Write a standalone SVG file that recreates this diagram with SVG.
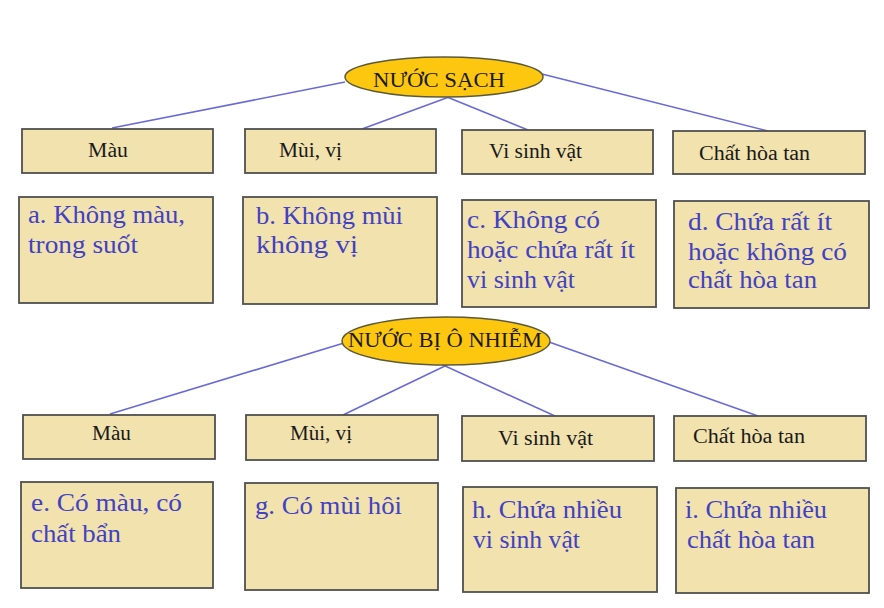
<svg xmlns="http://www.w3.org/2000/svg" width="884" height="608" viewBox="0 0 884 608">
<style>
.box{fill:#F1E2AE;stroke:#505050;stroke-width:1.8}
.ell{fill:#FDC70F;stroke:#5a5a3a;stroke-width:1.5}
.con{stroke:#6A6AD6;stroke-width:1.6;fill:none}
.lab{font-family:"Liberation Serif","Times New Roman",serif;font-size:20px;fill:#1a1a1a}
.hd{font-family:"Liberation Serif","Times New Roman",serif;font-size:20px;fill:#1a1a1a}
.ct{font-family:"Liberation Serif","Times New Roman",serif;font-size:24.5px;fill:#4141C4}
</style>
<rect width="884" height="608" fill="#ffffff"/>
<g id="connectors">
<line class="con" x1="345" y1="82" x2="112" y2="128"/>
<line class="con" x1="449" y1="97" x2="362" y2="129"/>
<line class="con" x1="447" y1="97" x2="528" y2="130"/>
<line class="con" x1="542" y1="74" x2="768" y2="131"/>
<line class="con" x1="344" y1="343" x2="110" y2="414"/>
<line class="con" x1="447" y1="365" x2="343" y2="415"/>
<line class="con" x1="443" y1="365" x2="555" y2="416"/>
<line class="con" x1="549" y1="342" x2="758" y2="416"/>
</g>
<g id="nuoc-sach">
<ellipse class="ell" cx="444" cy="77" rx="99" ry="20"/>
<text class="hd" x="373" y="87" textLength="132" lengthAdjust="spacingAndGlyphs">NƯỚC SẠCH</text>
</g>
<g id="top-mau">
<rect class="box" x="22" y="129" width="191" height="44"/>
<text class="lab" x="88" y="157" textLength="40" lengthAdjust="spacingAndGlyphs">Màu</text>
</g>
<g id="top-mui">
<rect class="box" x="245" y="129" width="191" height="44"/>
<text class="lab" x="279" y="157" textLength="63" lengthAdjust="spacingAndGlyphs">Mùi, vị</text>
</g>
<g id="top-vsv">
<rect class="box" x="462" y="130" width="191" height="44"/>
<text class="lab" x="489" y="158" textLength="93" lengthAdjust="spacingAndGlyphs">Vi sinh vật</text>
</g>
<g id="top-cht">
<rect class="box" x="673" y="131" width="192" height="43"/>
<text class="lab" x="699" y="160" textLength="111" lengthAdjust="spacingAndGlyphs">Chất hòa tan</text>
</g>
<g id="box-a">
<rect class="box" x="19" y="197" width="194" height="106"/>
<text class="ct" x="28" y="223" textLength="157" lengthAdjust="spacingAndGlyphs">a. Không màu,</text>
<text class="ct" x="28" y="253" textLength="110" lengthAdjust="spacingAndGlyphs">trong suốt</text>
</g>
<g id="box-b">
<rect class="box" x="243" y="197" width="194" height="107"/>
<text class="ct" x="256" y="224" textLength="147" lengthAdjust="spacingAndGlyphs">b. Không mùi</text>
<text class="ct" x="256" y="253" textLength="102" lengthAdjust="spacingAndGlyphs">không vị</text>
</g>
<g id="box-c">
<rect class="box" x="462" y="200" width="194" height="107"/>
<text class="ct" x="467" y="228" textLength="133" lengthAdjust="spacingAndGlyphs">c. Không có</text>
<text class="ct" x="467" y="258" textLength="168" lengthAdjust="spacingAndGlyphs">hoặc chứa rất ít</text>
<text class="ct" x="467" y="288" textLength="108" lengthAdjust="spacingAndGlyphs">vi sinh vật</text>
</g>
<g id="box-d">
<rect class="box" x="674" y="201" width="195" height="107"/>
<text class="ct" x="688" y="230" textLength="144" lengthAdjust="spacingAndGlyphs">d. Chứa rất ít</text>
<text class="ct" x="688" y="260" textLength="159" lengthAdjust="spacingAndGlyphs">hoặc không có</text>
<text class="ct" x="688" y="288" textLength="129" lengthAdjust="spacingAndGlyphs">chất hòa tan</text>
</g>
<g id="nuoc-o-nhiem">
<ellipse class="ell" cx="446" cy="341" rx="104" ry="24"/>
<text class="hd" x="348" y="347" textLength="194" lengthAdjust="spacingAndGlyphs">NƯỚC BỊ Ô NHIỄM</text>
</g>
<g id="bot-mau">
<rect class="box" x="23" y="415" width="192" height="44"/>
<text class="lab" x="92" y="440" textLength="39" lengthAdjust="spacingAndGlyphs">Màu</text>
</g>
<g id="bot-mui">
<rect class="box" x="246" y="415" width="192" height="45"/>
<text class="lab" x="290" y="440" textLength="62" lengthAdjust="spacingAndGlyphs">Mùi, vị</text>
</g>
<g id="bot-vsv">
<rect class="box" x="462" y="416" width="192" height="45"/>
<text class="lab" x="498" y="445" textLength="95" lengthAdjust="spacingAndGlyphs">Vi sinh vật</text>
</g>
<g id="bot-cht">
<rect class="box" x="674" y="416" width="192" height="45"/>
<text class="lab" x="693" y="443" textLength="112" lengthAdjust="spacingAndGlyphs">Chất hòa tan</text>
</g>
<g id="box-e">
<rect class="box" x="21" y="482" width="192" height="106"/>
<text class="ct" x="31" y="511" textLength="151" lengthAdjust="spacingAndGlyphs">e. Có màu, có</text>
<text class="ct" x="31" y="542" textLength="90" lengthAdjust="spacingAndGlyphs">chất bẩn</text>
</g>
<g id="box-g">
<rect class="box" x="245" y="483" width="193" height="107"/>
<text class="ct" x="255" y="514" textLength="147" lengthAdjust="spacingAndGlyphs">g. Có mùi hôi</text>
</g>
<g id="box-h">
<rect class="box" x="463" y="487" width="194" height="105"/>
<text class="ct" x="472" y="518" textLength="150" lengthAdjust="spacingAndGlyphs">h. Chứa nhiều</text>
<text class="ct" x="473" y="548" textLength="107" lengthAdjust="spacingAndGlyphs">vi sinh vật</text>
</g>
<g id="box-i">
<rect class="box" x="676" y="488" width="193" height="105"/>
<text class="ct" x="685" y="518" textLength="142" lengthAdjust="spacingAndGlyphs">i. Chứa nhiều</text>
<text class="ct" x="687" y="548" textLength="128" lengthAdjust="spacingAndGlyphs">chất hòa tan</text>
</g>
</svg>
